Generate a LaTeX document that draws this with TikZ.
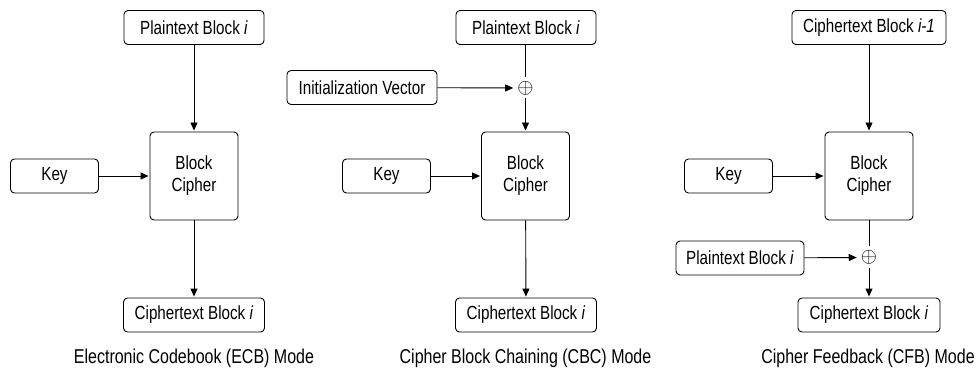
\documentclass[tikz,border=0pt]{standalone}
\usepackage{fontspec}
\setmainfont{Liberation Sans}[FakeStretch=0.8]
\usetikzlibrary{arrows.meta}
\begin{document}
\begin{tikzpicture}[x=1pt, y=-1pt, font=\fontsize{19}{22}\selectfont,
    block/.style={draw, rounded corners=4pt, line width=0.9pt,
      minimum height=34pt, inner sep=0pt},
    cipher/.style={block, minimum width=88pt, minimum height=88pt,
      align=center}, xor/.style={inner sep=3pt,
      font=\fontsize{22}{24}\selectfont},
    caption/.style={font=\fontsize{20}{22}\selectfont}]
  \useasboundingbox (0,0) rectangle (980,374);
  % ECB
  \begin{scope}
    \node [block, minimum width=140pt] (pt1) at (194,27.5) {Plaintext
      Block \textit{i}}; \node [cipher] (bc1) at (194,176) {Block\\
      Cipher}; \node [block, minimum width=88pt] (key1) at (54.5,176)
    {Key}; \node [block, minimum width=141pt] (ct1) at (194,315)
    {Ciphertext Block \textit{i}}; \node [caption] (cap1) at (194,358)
    {Electronic Codebook (ECB) Mode};
    \begin{scope}[->, >={Triangle[length=8pt,width=7pt]}, line
      width=0.9pt, shorten >=1pt]
      \draw (pt1) -- (bc1); \draw (key1) -- (bc1); \draw (bc1) --
      (ct1);
    \end{scope}
  \end{scope}

  % CBC
  \begin{scope}
    \node [block, minimum width=140pt] (pt2) at (526,27.5) {Plaintext
      Block \textit{i}}; \node [block, minimum width=150pt] (iv) at
    (362,87.5) {Initialization Vector}; \node [xor] (x2) at (525.5,88)
    {$\oplus$}; \node [cipher] (bc2) at (525.5,176) {Block\\ Cipher};
    \node [block, minimum width=88pt] (key2) at (386.5,176) {Key};
    \node [block, minimum width=141pt] (ct2) at (526,315) {Ciphertext
      Block \textit{i}}; \node [caption] (cap2) at (525.5,358) {Cipher
      Block Chaining (CBC) Mode};
    \begin{scope}[->, >={Triangle[length=8pt,width=7pt]}, line
      width=0.9pt, shorten >=1pt]
      \draw [-] (pt2.south -| x2) -- (x2); \draw (iv) -- (x2); \draw
      (x2) -- (bc2); \draw (key2) -- (bc2); \draw (bc2) -- (ct2);
    \end{scope}
  \end{scope}

  % CFB
  \begin{scope}
    \node [block, minimum width=154pt] (cp3) at (869,27.5) {Ciphertext
      Block \textit{i-1}}; \node [cipher] (bc3) at (869,176) {Block\\
      Cipher}; \node [block, minimum width=88pt] (key3) at (728.5,176)
    {Key}; \node [xor] (x3) at (869,257.5) {$\oplus$}; \node [block,
    minimum width=128pt] (pt3) at (740,258) {Plaintext Block
      \textit{i}}; \node [block, minimum width=142pt] (ct3) at
    (869,315) {Ciphertext Block \textit{i}}; \node [caption] (cap3) at
    (868,358) {Cipher Feedback (CFB) Mode};
    \begin{scope}[->, >={Triangle[length=8pt,width=7pt]}, line
      width=0.9pt, shorten >=1pt]
      \draw (cp3) -- (bc3); \draw (key3) -- (bc3); \draw [-] (bc3) --
      (x3); \draw (pt3) -- (x3); \draw (x3) -- (ct3);
    \end{scope}
  \end{scope}
\end{tikzpicture}
\end{document}
